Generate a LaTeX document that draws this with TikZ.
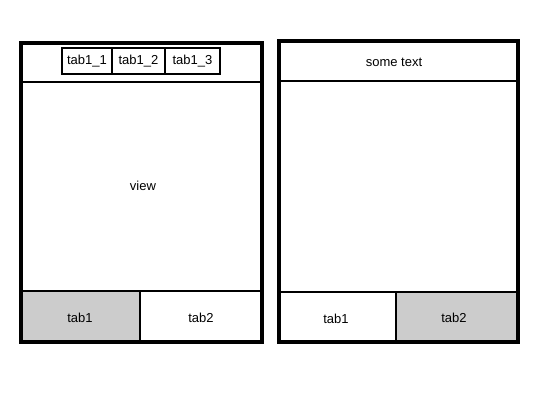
\documentclass[tikz,border=0pt]{standalone}
\usepackage{fontspec}
\setmainfont{Liberation Sans}
\usetikzlibrary{positioning}
\definecolor{tabgray}{HTML}{CCCCCC}
\tikzset{lbl/.style={font=\fontsize{13}{15}\selectfont, inner sep=0pt}}

\begin{document}
\begin{tikzpicture}[x=1pt, y=-1pt]
				\useasboundingbox (0,0) rectangle (540,405);
				
				% Pannello sinistro: tab selezionata e divisori
				\fill[tabgray] (21,291) rectangle (140,342);
				\draw[line width=2.6pt] (21,82) -- (262,82);
				\draw[line width=2.6pt] (21,291) -- (262,291);
				\draw[line width=2.6pt] (140,291) -- (140,342);
				\draw[line width=3.5pt] (21,43) rectangle (262,342);
				
				% Sotto-tab nella testata
				\draw[line width=2.8pt] (62,48) rectangle (112,74) node[midway, lbl] (t11) {tab1\_1};
				\draw[line width=2.8pt] (112,48) rectangle (165,74) node[midway, lbl] (t12) {tab1\_2};
				\draw[line width=2.8pt] (165,48) rectangle (220,74) node[midway, lbl] (t13) {tab1\_3};
				
				% Testi del pannello sinistro
				\node[lbl] (view) at (143,186) {view};
				\node[lbl] (ltab1) at (80,318) {tab1};
				\node[lbl] (ltab2) at (201,318) {tab2};
				
				% Pannello destro
				\fill[tabgray] (396,292) rectangle (518,342);
				\draw[line width=2.6pt] (279,81) -- (518,81);
				\draw[line width=2.6pt] (279,292) -- (518,292);
				\draw[line width=2.6pt] (396,292) -- (396,342);
				\draw[line width=3.5pt] (279,41) rectangle (518,342);
				
				% Testi del pannello destro
				\node[lbl] (some) at (394,62) {some text};
				\node[lbl] (rtab1) at (336,319) {tab1};
				\node[lbl] (rtab2) at (454,318) {tab2};
			\end{tikzpicture}
\end{document}
